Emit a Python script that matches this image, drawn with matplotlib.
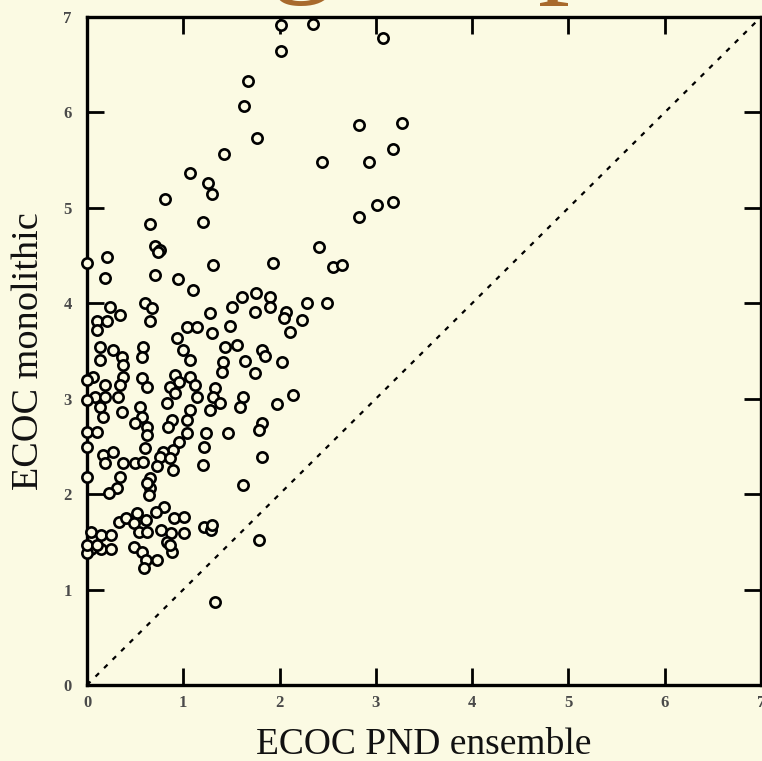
import matplotlib
matplotlib.use("Agg")
import matplotlib.pyplot as plt

# ECOC PND ensemble (x) vs ECOC monolithic (y)
pnd_ensemble = [
    2.02, 2.35, 3.07, 2.01, 1.67, 1.63, 2.82, 3.27, 1.77, 3.18,
    1.42, 2.44, 2.93, 1.07, 1.26, 1.30, 0.81, 3.01, 3.18, 2.82,
    0.65, 1.20, 0.71, 0.76, 2.41, 2.56, 2.65, 2.29, 2.49, 2.23,
    2.11, 2.14, 1.97, 1.82, 1.79, 1.82, 1.62, 1.79, 1.33,
    0.00, 0.21, 0.19, 0.74, 1.31, 1.93, 0.71, 0.94, 1.10, 1.61,
    1.76, 1.90, 1.90, 1.51, 1.28, 1.74, 2.07, 2.05, 0.60, 0.67,
    0.24, 0.34, 0.10, 0.21, 0.10, 0.65, 1.04, 1.14, 1.48, 1.30,
    0.93, 1.00, 1.07, 1.43, 1.56, 1.82, 1.85, 2.03, 1.64, 1.74,
    1.41, 1.40, 0.58, 0.57, 0.13, 0.27, 0.36, 0.13, 0.37, 0.06,
    0.37, 0.00, 0.19, 0.34, 0.57, 0.62, 0.91, 0.96, 0.86, 1.07,
    1.12, 0.91, 0.83, 1.14, 1.33, 1.31, 1.38, 1.28, 1.62, 1.59,
    0.08, 0.19, 0.32, 0.00, 0.13, 0.36, 0.17, 0.55, 0.57, 0.50,
    0.62, 0.62, 0.60, 0.88, 1.07, 1.04, 0.84, 1.04, 0.96, 0.89,
    0.79, 1.46, 1.24, 1.22, 1.20, 0.00, 0.10, 0.00, 0.17, 0.27,
    0.19, 0.37, 0.50, 0.58, 0.76, 0.86, 0.89, 0.73, 0.34, 0.65,
    0.00, 0.31, 0.65, 0.23, 0.62, 0.64,
    0.80, 0.72, 0.33, 0.41, 0.52, 0.49, 0.61, 0.90, 1.01, 0.54,
    0.62, 0.77, 0.87, 1.01, 0.83, 0.88, 0.49, 0.57, 0.61, 0.73,
    0.59, 0.04, 0.15, 0.25, 0.04, 0.15, 0.25, 0.00, 1.21, 1.29,
    1.30, 0.86, 0.00, 0.10,
]
monolithic = [
    6.92, 6.93, 6.78, 6.64, 6.33, 6.07, 5.87, 5.89, 5.73, 5.62,
    5.56, 5.48, 5.48, 5.37, 5.26, 5.15, 5.09, 5.03, 5.06, 4.90,
    4.83, 4.85, 4.60, 4.56, 4.59, 4.38, 4.40, 4.00, 4.00, 3.83,
    3.70, 3.04, 2.94, 2.75, 2.67, 2.39, 2.10, 1.52, 0.87,
    4.42, 4.49, 4.27, 4.54, 4.40, 4.42, 4.30, 4.25, 4.14, 4.07,
    4.11, 4.07, 3.96, 3.96, 3.90, 3.91, 3.91, 3.85, 4.00, 3.95,
    3.96, 3.88, 3.81, 3.81, 3.72, 3.81, 3.75, 3.75, 3.76, 3.69,
    3.64, 3.51, 3.41, 3.54, 3.56, 3.51, 3.45, 3.38, 3.39, 3.27,
    3.38, 3.28, 3.54, 3.44, 3.54, 3.51, 3.44, 3.41, 3.35, 3.23,
    3.23, 3.20, 3.14, 3.14, 3.22, 3.12, 3.25, 3.18, 3.12, 3.23,
    3.14, 3.06, 2.96, 3.02, 3.11, 3.02, 2.96, 2.88, 3.02, 2.91,
    3.02, 3.02, 3.02, 2.99, 2.91, 2.86, 2.81, 2.91, 2.81, 2.75,
    2.70, 2.62, 2.48, 2.78, 2.88, 2.78, 2.70, 2.64, 2.55, 2.46,
    2.44, 2.64, 2.64, 2.49, 2.31, 2.65, 2.65, 2.49, 2.41, 2.44,
    2.33, 2.33, 2.33, 2.34, 2.39, 2.38, 2.25, 2.29, 2.18, 2.17,
    2.18, 2.06, 2.06, 2.01, 2.12, 1.99,
    1.87, 1.81, 1.71, 1.75, 1.80, 1.70, 1.73, 1.75, 1.76, 1.60,
    1.60, 1.62, 1.59, 1.59, 1.50, 1.39, 1.45, 1.39, 1.31, 1.31,
    1.23, 1.60, 1.57, 1.57, 1.42, 1.42, 1.42, 1.38, 1.66, 1.62,
    1.68, 1.47, 1.47, 1.47,
]
axis_ticks = [0, 1, 2, 3, 4, 5, 6, 7]
x_label = "ECOC PND ensemble"
y_label = "ECOC monolithic"

bg = "#FBFAE3"
W, H = 762, 761
fig = plt.figure(figsize=(W / 100, H / 100), dpi=100, facecolor=bg)

# partially visible slide title glyphs (cut off at the top)
title_color = "#A8692C"
for gx, ch in [(302, "g"), (570, "p")]:
    fig.text(gx / W, 1 + 21 / H, ch, ha="center", va="baseline",
             fontsize=92, family="Liberation Serif", color=title_color)

ax_left, ax_bottom, ax_w, ax_h = 87, 76, 674, 668
ax = fig.add_axes([ax_left / W, ax_bottom / H, ax_w / W, ax_h / H])
ax.set_facecolor(bg)
ax.set_xlim(0, 7)
ax.set_ylim(0, 7)

ax.plot([0, 7], [0, 7], color="black", lw=1.6, linestyle=(0, (2.2, 3.2)), zorder=2)
ax.plot(pnd_ensemble, monolithic, linestyle="none", marker="o", ms=7.4,
        mfc=bg, mec="black", mew=1.9, zorder=3, clip_on=False)

for s in ax.spines.values():
    s.set_linewidth(2.4)
    s.set_color("black")

ax.set_xticks(axis_ticks)
ax.set_yticks(axis_ticks)
ax.tick_params(axis="both", which="major", direction="in", width=2,
               labelsize=12, labelcolor="#4a4a4a")
ax.tick_params(axis="x", length=12, top=True, pad=7)
ax.tick_params(axis="y", length=12, right=True, pad=11)
for lab in ax.get_xticklabels() + ax.get_yticklabels():
    lab.set_family("Liberation Serif")
    lab.set_fontweight("bold")

ax.set_xlabel(x_label, fontsize=27, family="Liberation Serif", color="#111111",
              va="baseline")
ax.xaxis.set_label_coords(0.5, ((H - 754) - ax_bottom) / ax_h)
ax.set_ylabel(y_label, fontsize=27.5, family="Liberation Serif", color="#111111",
              va="center")
ax.yaxis.set_label_coords((29 - ax_left) / ax_w, 0.5)

fig.savefig("out.png", dpi=100, facecolor=bg)
